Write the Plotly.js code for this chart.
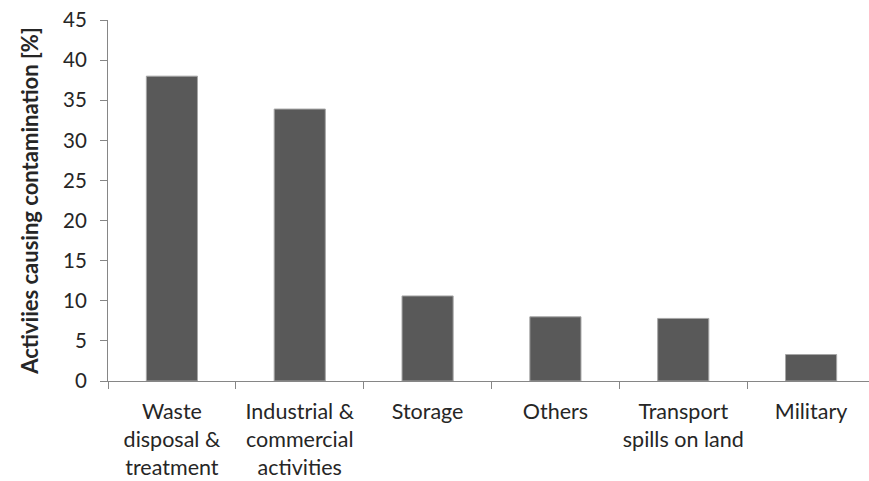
<!DOCTYPE html>
<html>
<head>
<meta charset="utf-8">
<script src="https://cdn.plot.ly/plotly-3.0.1.min.js"></script>
<style>html,body{margin:0;padding:0;overflow:hidden;background:#fff;}</style>
</head>
<body>
<div id="chart"></div>
<script>
const categories = ["Waste disposal & treatment", "Industrial & commercial activities", "Storage", "Others", "Transport spills on land", "Military"];
const tickLabels = ["Waste<br>disposal &<br>treatment", "Industrial &<br>commercial<br>activities", "Storage", "Others", "Transport<br>spills on land", "Military"];
const values = [38.0, 33.9, 10.6, 8.0, 7.8, 3.3];
const yTitle = "Activiies causing contamination [%]";

const trace = {
  type: "bar",
  x: categories,
  y: values,
  marker: {color: "#595959", line: {color: "#a6a6a6", width: 1}},
  hoverinfo: "skip"
};

const fam = "Lato, 'Open Sans', sans-serif";

const layout = {
  width: 875,
  height: 481,
  margin: {l: 108, r: 0, t: 20, b: 100},
  paper_bgcolor: "#fff",
  plot_bgcolor: "#fff",
  bargap: 0.6,
  showlegend: false,
  xaxis: {
    type: "category",
    tickmode: "array",
    tickvals: categories,
    ticktext: tickLabels,
    tickson: "boundaries",
    ticks: "outside",
    ticklen: 7,
    tickcolor: "#868686",
    showline: true,
    linecolor: "#868686",
    linewidth: 1,
    showgrid: false,
    zeroline: false,
    tickfont: {family: fam, size: 21.5, color: "#262626"},
    tickangle: 0,
    ticklabelstandoff: 11
  },
  yaxis: {
    range: [0, 45],
    dtick: 5,
    tick0: 0,
    ticks: "outside",
    ticklen: 7,
    tickcolor: "#868686",
    showline: true,
    linecolor: "#868686",
    linewidth: 1,
    showgrid: false,
    zeroline: false,
    tickfont: {family: fam, size: 20.5, color: "#262626"},
    ticklabelstandoff: 9,
    title: {
      text: yTitle,
      font: {family: fam, size: 22, color: "#262626", weight: "bold"},
      standoff: 18
    }
  }
};

Plotly.newPlot("chart", [trace], layout, {displayModeBar: false, staticPlot: true});
</script>
</body>
</html>
